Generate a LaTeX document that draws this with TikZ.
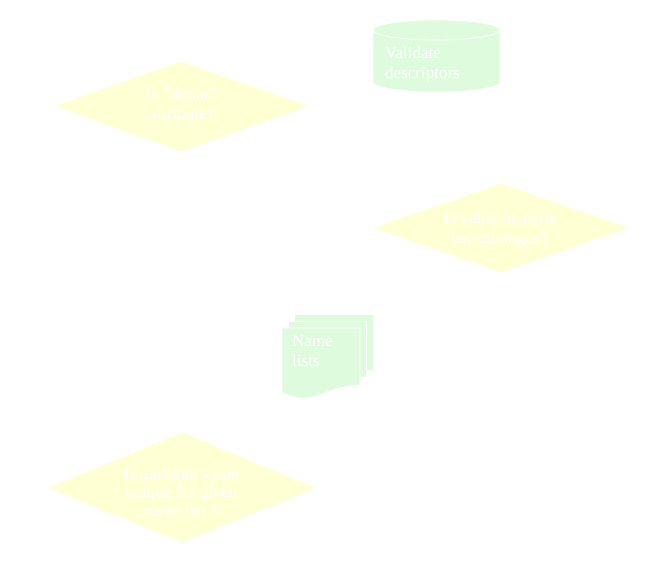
\documentclass[tikz,border=0pt]{standalone}
\usepackage{fontspec}
\setmainfont{Liberation Serif}
\begin{document}
\definecolor{decfill}{RGB}{255,255,212}
\definecolor{datafill}{RGB}{222,251,222}
\begin{tikzpicture}[x=1pt,y=-1pt,
  decision/.style={fill=decfill,draw=white,line width=0.8pt},
  datastore/.style={fill=datafill,draw=white,line width=0.8pt},
  label/.style={text=white,font=\fontsize{17}{20}\selectfont,align=center,inner sep=0pt},
  leftlabel/.style={text=white,font=\fontsize{17}{20}\selectfont,align=left,inner sep=0pt,anchor=west}]
\useasboundingbox[fill=white] (0,0) rectangle (657,580);

% database cylinder
\path[datastore] (373,30) -- (373,82) arc[start angle=180,end angle=0,x radius=63.5,y radius=10]
  -- (500,30) arc[start angle=0,end angle=-180,x radius=63.5,y radius=10] -- cycle;
\draw[white,line width=0.8pt] (373,30) arc[start angle=180,end angle=0,x radius=63.5,y radius=10];
\node[leftlabel] (validate) at (385,64) {Validate\\descriptors};

% first decision
\path[decision] (53,106) -- (181,61) -- (310,106) -- (181,152) -- cycle;
\node[label] (donor) at (182,104) {Is "donor"\\attribute?};

% second decision
\path[decision] (372,228) -- (501,183) -- (630,228) -- (501,273) -- cycle;
\node[label] (inlist) at (500,229) {Is value in name\\list catalogue?};

% stacked documents
\path[datastore] (294,314) rectangle (373,370);
\path[datastore] (288,321) rectangle (366,377);
\path[datastore] (282,328) -- (360,328) -- (360,385)
  .. controls (330,386) and (318,400) .. (300,398)
  .. controls (292,397) and (287,394) .. (282,393) -- cycle;
\node[leftlabel] (names) at (292,351) {Name\\lists};

% third decision
\path[decision] (47,488) -- (182,432) -- (317,488) -- (182,543) -- cycle;
\node[label,font=\fontsize{17}{18.5}\selectfont] (unique) at (181,492) {Is attribute value\\unique for given\\name list ?};
\end{tikzpicture}
\end{document}
